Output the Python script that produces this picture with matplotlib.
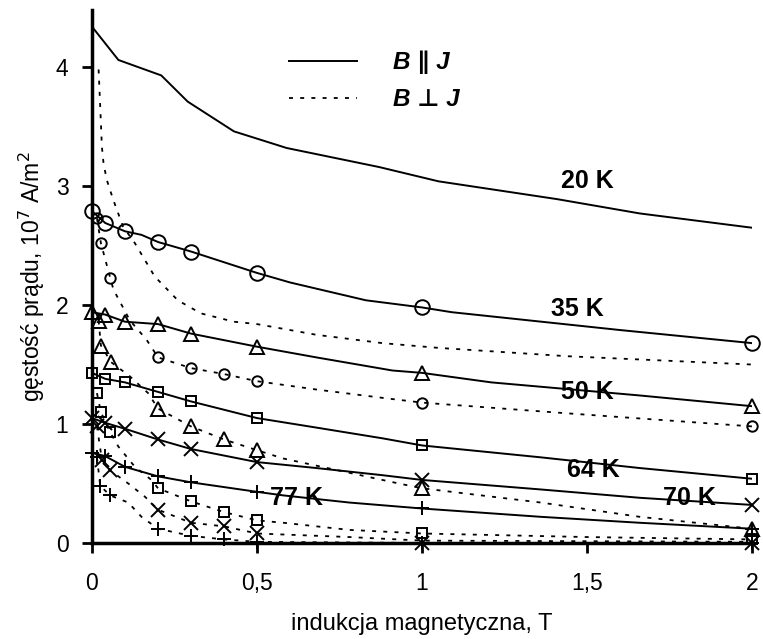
import matplotlib
matplotlib.use("Agg")
import matplotlib.pyplot as plt
from matplotlib.lines import Line2D

plt.rcParams['font.family'] = ['Liberation Sans', 'DejaVu Sans']

# ---------------- data ----------------
# B || J (solid lines)
x20_par = [0, 0.08, 0.21, 0.29, 0.43, 0.59, 0.87, 1.05, 1.41, 1.66, 2.0]
y20_par = [4.34, 4.06, 3.93, 3.71, 3.46, 3.32, 3.16, 3.04, 2.89, 2.77, 2.65]

x35_par = [0, 0.04, 0.1, 0.15, 0.2, 0.3, 0.5, 0.6, 0.83, 1.0, 1.09, 1.6, 2.0]
y35_par = [2.79, 2.69, 2.62, 2.59, 2.53, 2.45, 2.27, 2.19, 2.04, 1.98, 1.94, 1.79, 1.68]
mx35_par = [0, 0.04, 0.1, 0.2, 0.3, 0.5, 1.0, 2.0]
my35_par = [2.79, 2.69, 2.62, 2.53, 2.45, 2.27, 1.98, 1.68]

x50_par = [0, 0.04, 0.1, 0.2, 0.3, 0.5, 0.68, 0.91, 1.0, 1.21, 1.66, 2.0]
y50_par = [1.94, 1.92, 1.86, 1.84, 1.76, 1.65, 1.56, 1.45, 1.43, 1.35, 1.24, 1.15]
mx50_par = [0, 0.04, 0.1, 0.2, 0.3, 0.5, 1.0, 2.0]
my50_par = [1.94, 1.92, 1.86, 1.84, 1.76, 1.65, 1.43, 1.15]

x64_par = [0, 0.04, 0.1, 0.2, 0.3, 0.5, 0.68, 0.88, 1.0, 1.36, 1.66, 2.0]
y64_par = [1.43, 1.38, 1.35, 1.27, 1.19, 1.05, 0.97, 0.88, 0.82, 0.72, 0.63, 0.54]
mx64_par = [0, 0.04, 0.1, 0.2, 0.3, 0.5, 1.0, 2.0]
my64_par = [1.43, 1.38, 1.35, 1.27, 1.19, 1.05, 0.82, 0.54]

x70_par = [0, 0.04, 0.1, 0.2, 0.3, 0.5, 0.68, 0.88, 1.0, 1.36, 1.66, 2.0]
y70_par = [1.05, 1.01, 0.96, 0.87, 0.79, 0.68, 0.63, 0.57, 0.53, 0.45, 0.38, 0.32]
mx70_par = [0, 0.04, 0.1, 0.2, 0.3, 0.5, 1.0, 2.0]
my70_par = [1.05, 1.01, 0.96, 0.87, 0.79, 0.68, 0.53, 0.32]

x77_par = [0, 0.04, 0.1, 0.2, 0.3, 0.5, 0.58, 0.78, 1.0, 1.36, 1.66, 2.0]
y77_par = [0.76, 0.73, 0.64, 0.56, 0.51, 0.43, 0.40, 0.34, 0.29, 0.22, 0.17, 0.12]
mx77_par = [0, 0.04, 0.1, 0.2, 0.3, 0.5, 1.0, 2.0]
my77_par = [0.76, 0.73, 0.64, 0.56, 0.51, 0.43, 0.29, 0.12]

# B perp J (dotted lines)
x20_per = [0.02, 0.025, 0.03, 0.035, 0.045, 0.065, 0.094, 0.13, 0.19, 0.26, 0.33, 0.43, 0.5,
           0.68, 0.88, 1.05, 1.44, 2.0]
y20_per = [3.98, 3.66, 3.33, 3.19, 3.05, 2.88, 2.66, 2.52, 2.24, 2.04, 1.93, 1.86, 1.84,
           1.75, 1.68, 1.64, 1.57, 1.50]

x35_per = [0.015, 0.027, 0.055, 0.065, 0.115, 0.165, 0.2, 0.3, 0.4, 0.5, 0.68, 0.88, 1.0, 1.44, 2.0]
y35_per = [2.73, 2.52, 2.23, 2.13, 1.87, 1.71, 1.56, 1.47, 1.42, 1.36, 1.29, 1.22, 1.18, 1.09, 0.98]
mx35_per = [0.015, 0.027, 0.055, 0.2, 0.3, 0.4, 0.5, 1.0, 2.0]
my35_per = [2.73, 2.52, 2.23, 1.56, 1.47, 1.42, 1.36, 1.18, 0.98]

x50_per = [0.02, 0.027, 0.058, 0.115, 0.17, 0.2, 0.3, 0.4, 0.5, 0.58, 0.78, 0.93, 1.0, 1.36, 1.66, 2.0]
y50_per = [1.87, 1.66, 1.52, 1.40, 1.26, 1.13, 0.98, 0.87, 0.78, 0.71, 0.59, 0.50, 0.46, 0.34, 0.22, 0.12]
mx50_per = [0.02, 0.027, 0.058, 0.2, 0.3, 0.4, 0.5, 1.0, 2.0]
my50_per = [1.87, 1.66, 1.52, 1.13, 0.98, 0.87, 0.78, 0.46, 0.12]

x64_per = [0.015, 0.027, 0.055, 0.08, 0.13, 0.18, 0.2, 0.3, 0.4, 0.5, 0.58, 0.78, 1.0, 1.5, 2.0]
y64_per = [1.26, 1.10, 0.93, 0.81, 0.64, 0.53, 0.46, 0.35, 0.26, 0.19, 0.17, 0.11, 0.08, 0.05, 0.03]
mx64_per = [0.015, 0.027, 0.055, 0.2, 0.3, 0.4, 0.5, 1.0, 2.0]
my64_per = [1.26, 1.10, 0.93, 0.46, 0.35, 0.26, 0.19, 0.08, 0.03]

x70_per = [0.015, 0.03, 0.055, 0.11, 0.16, 0.2, 0.3, 0.4, 0.5, 0.78, 1.0, 2.0]
y70_per = [0.98, 0.70, 0.61, 0.50, 0.39, 0.28, 0.17, 0.14, 0.08, 0.05, 0.02, 0.01]
mx70_per = [0.015, 0.03, 0.055, 0.2, 0.3, 0.4, 0.5, 1.0, 2.0]
my70_per = [0.98, 0.70, 0.61, 0.28, 0.17, 0.14, 0.08, 0.0, 0.0]

x77_per = [0.015, 0.025, 0.055, 0.11, 0.15, 0.2, 0.3, 0.4, 0.5, 1.0, 2.0]
y77_per = [0.72, 0.48, 0.40, 0.34, 0.22, 0.12, 0.06, 0.03, 0.01, 0.0, 0.0]
mx77_per = [0.015, 0.025, 0.055, 0.2, 0.3, 0.4, 0.5, 1.0, 2.0]
my77_per = [0.72, 0.48, 0.40, 0.12, 0.06, 0.03, 0.01, 0.0, 0.0]

temp_labels = ["20 K", "35 K", "50 K", "64 K", "70 K", "77 K"]
label_x = [1.50, 1.47, 1.50, 1.52, 1.81, 0.62]
label_y = [3.04, 1.97, 1.27, 0.61, 0.38, 0.38]

xticks = [0, 0.5, 1, 1.5, 2]
xtick_labels = ["0", "0,5", "1", "1,5", "2"]
yticks = [0, 1, 2, 3, 4]
ytick_labels = ["0", "1", "2", "3", "4"]

xlabel = "indukcja magnetyczna, T"
ylabel = "gęstość prądu, 10$^7$ A/m$^2$"
legend_labels = ["B \u2225 J", "B \u22a5 J"]

# ---------------- plot ----------------
fig = plt.figure(figsize=(7.63, 6.39), dpi=100)
ax = fig.add_axes([92/763, 1 - 543/639, (752-92)/763, (543-10)/639])

SOLID = dict(color='black', lw=1.4, linestyle='-')
DOT = dict(color='black', lw=1.3, linestyle=(0, (2.2, 4.0)))
MK = dict(linestyle='none', color='black', markerfacecolor='none', markeredgewidth=1.4, clip_on=False, zorder=3)

# solid
ax.plot(x20_par, y20_par, **SOLID)
ax.plot(x35_par, y35_par, **SOLID)
ax.plot(mx35_par, my35_par, marker='o', markersize=10.5, **MK)
ax.plot(x50_par, y50_par, **SOLID)
ax.plot(mx50_par, my50_par, marker='^', markersize=9.5, **MK)
ax.plot(x64_par, y64_par, **SOLID)
ax.plot(mx64_par, my64_par, marker='s', markersize=7.5, **MK)
ax.plot(x70_par, y70_par, **SOLID)
ax.plot(mx70_par, my70_par, marker='x', markersize=9.5, **MK)
ax.plot(x77_par, y77_par, **SOLID)
ax.plot(mx77_par, my77_par, marker='+', markersize=10, **MK)

# dotted
ax.plot(x20_per, y20_per, **DOT)
ax.plot(x35_per, y35_per, **DOT)
ax.plot(mx35_per, my35_per, marker='o', markersize=7.5, **MK)
ax.plot(x50_per, y50_per, **DOT)
ax.plot(mx50_per, my50_per, marker='^', markersize=9.5, **MK)
ax.plot(x64_per, y64_per, **DOT)
ax.plot(mx64_per, my64_per, marker='s', markersize=7.5, **MK)
ax.plot(x70_per, y70_per, **DOT)
ax.plot(mx70_per, my70_per, marker='x', markersize=9.5, **MK)
ax.plot(x77_per, y77_per, **DOT)
ax.plot(mx77_per, my77_per, marker='+', markersize=10, **MK)

for t, lx, ly in zip(temp_labels, label_x, label_y):
    ax.text(lx, ly, t, fontsize=18, fontweight='bold', ha='center', va='center', zorder=4)

ax.set_xlim(0, 2)
ax.set_ylim(0, 4.48)
ax.set_xticks(xticks)
ax.set_xticklabels(xtick_labels)
ax.set_yticks(yticks)
ax.set_yticklabels(ytick_labels)
ax.tick_params(direction='out', length=7, width=2, labelsize=16.5, pad=10)
ax.tick_params(axis='x', pad=14)
for s in ['top', 'right']:
    ax.spines[s].set_visible(False)
for s in ['left', 'bottom']:
    ax.spines[s].set_linewidth(2.5)

ax.set_xlabel(xlabel, fontsize=17, labelpad=13)
ax.set_ylabel(ylabel, fontsize=16.5, labelpad=6)

handles = [Line2D([], [], **SOLID), Line2D([], [], **DOT)]
leg = ax.legend(handles, legend_labels, loc='upper left', bbox_to_anchor=(0.298, 0.924),
                frameon=False, borderpad=0, borderaxespad=0,
                handlelength=2.8, handletextpad=1.5, labelspacing=0.58,
                prop=dict(size=17.5, weight='bold', style='italic'))

fig.savefig("out.png", dpi=100)
